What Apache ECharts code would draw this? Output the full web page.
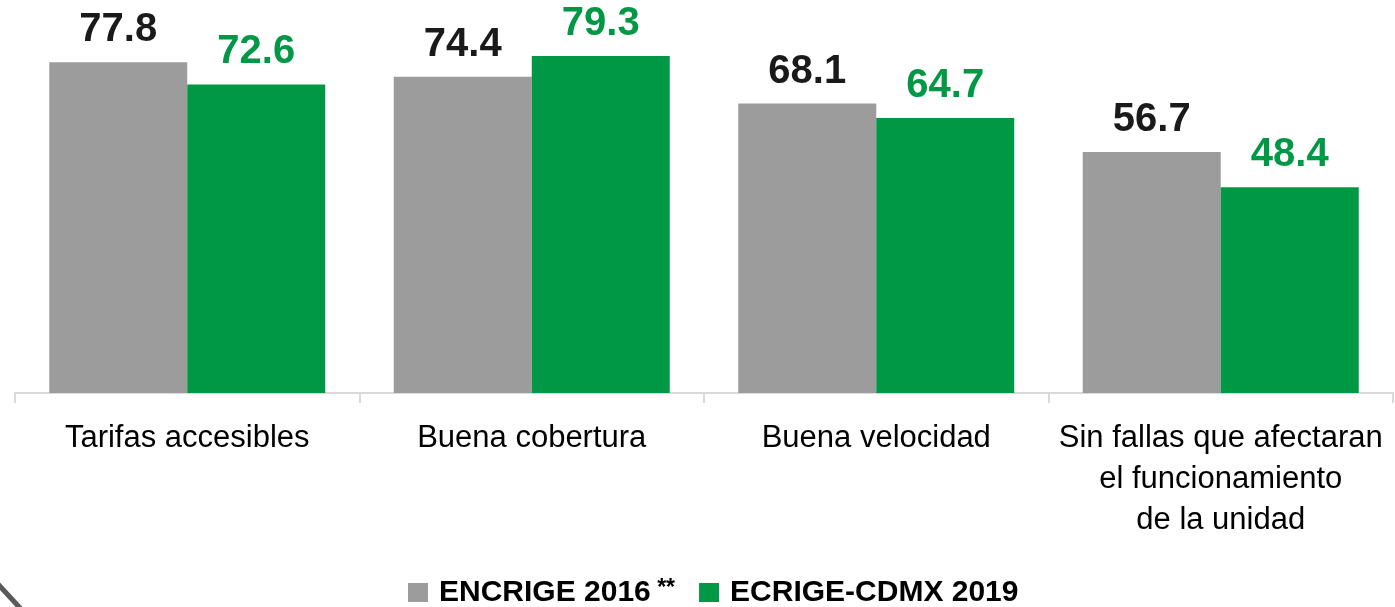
<!DOCTYPE html>
<html>
<head>
<meta charset="utf-8">
<script src="https://cdn.jsdelivr.net/npm/echarts@6/dist/echarts.min.js"></script>
<style>
html, body { margin: 0; padding: 0; background: #fff; }
#chart { width: 1395px; height: 607px; }
</style>
</head>
<body>
<div id="chart"></div>
<script>
// datos
var categorias = ['Tarifas accesibles', 'Buena cobertura', 'Buena velocidad',
    'Sin fallas que afectaran\nel funcionamiento\nde la unidad'];
var encrige2016 = [77.8, 74.4, 68.1, 56.7];
var ecrige2019 = [72.6, 79.3, 64.7, 48.4];
var nombres = ['ENCRIGE 2016 **', 'ECRIGE-CDMX 2019'];

var GRIS = '#9c9c9c';
var VERDE = '#009845';
var FUENTE = "'Liberation Sans', Arial, sans-serif";

var myChart = echarts.init(document.getElementById('chart'));

var option = {
    animation: false,
    grid: { left: 15, right: 2, top: 53, bottom: 214, outerBoundsMode: 'none', containLabel: false },
    legend: {
        left: 403,
        top: 572,
        itemWidth: 20,
        itemHeight: 19,
        itemGap: 24,
        icon: 'rect',
        data: nombres,
        formatter: function (name) {
            if (name.indexOf('**') > 0) {
                return '{a|' + name.replace(' **', '') + '}{s| **}';
            }
            return '{a|' + name + '}';
        },
        textStyle: {
            padding: [0, 0, 0, 6],
            rich: {
                a: { fontFamily: FUENTE, fontWeight: 'bold', fontSize: 30, color: '#000' },
                s: { fontFamily: FUENTE, fontWeight: 'bold', fontSize: 23, color: '#000', verticalAlign: 'top', padding: [0, 0, 8, 0] }
            }
        }
    },
    xAxis: {
        type: 'category',
        data: categorias,
        axisLine: { lineStyle: { color: '#d9d9d9', width: 2 } },
        axisTick: { show: true, length: 10, lineStyle: { color: '#d9d9d9', width: 2 } },
        axisLabel: {
            interval: 0,
            margin: 25,
            fontFamily: FUENTE,
            fontSize: 31,
            lineHeight: 41,
            color: '#000'
        }
    },
    yAxis: {
        type: 'value',
        min: 0,
        max: 80,
        show: false
    },
    series: [
        {
            name: nombres[0],
            type: 'bar',
            data: encrige2016,
            barWidth: 138,
            barGap: '0%',
            itemStyle: { color: GRIS },
            label: {
                show: true,
                position: 'top',
                distance: 12,
                fontFamily: FUENTE,
                fontWeight: 'bold',
                fontSize: 40,
                color: '#1a1a1a'
            }
        },
        {
            name: nombres[1],
            type: 'bar',
            data: ecrige2019,
            barWidth: 138,
            barGap: '0%',
            itemStyle: { color: VERDE },
            label: {
                show: true,
                position: 'top',
                distance: 12,
                fontFamily: FUENTE,
                fontWeight: 'bold',
                fontSize: 40,
                color: VERDE
            }
        }
    ],
    graphic: [
        {
            type: 'bezierCurve',
            shape: { x1: -3, y1: 583, cpx1: 6, cpy1: 593, x2: 21, y2: 609 },
            style: { stroke: '#5a5a5a', lineWidth: 5, fill: null }
        }
    ]
};
myChart.setOption(option);
</script>
</body>
</html>
